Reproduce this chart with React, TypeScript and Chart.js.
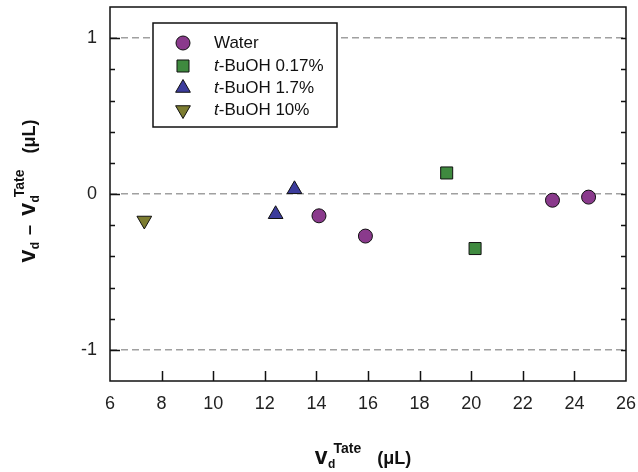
import React, { useEffect, useRef } from 'react';
import { Chart, registerables } from 'chart.js';

Chart.register(...registerables);

// ---- data ----
const seriesLabels = ['Water', 't-BuOH 0.17%', 't-BuOH 1.7%', 't-BuOH 10%'];
const waterX = [14.1, 15.9, 23.15, 24.55];
const waterY = [-0.14, -0.27, -0.04, -0.02];
const buoh017X = [19.05, 20.15];
const buoh017Y = [0.135, -0.35];
const buoh17X = [12.42, 13.15];
const buoh17Y = [-0.13, 0.03];
const buoh10X = [7.33];
const buoh10Y = [-0.17];

const xMin = 6;
const xMax = 26;
const xStep = 2;
const yMin = -1.2;
const yMax = 1.2;
const yStep = 0.2;
const yLabelValues = [-1, 0, 1];

// ---- style ----
const FONT = '"Liberation Sans", Arial, Helvetica, sans-serif';
const colors = ['#8a3a8c', '#3f8a3f', '#3c3c9c', '#7c7c30'];
const pointStyles = ['circle', 'rect', 'triangle', 'triangle'];
const rotations = [0, 0, 0, 180];
const radii = [7, 8.5, 8.5, 8.5];

const toPts = (xs: number[], ys: number[]) => xs.map((x, i) => ({ x, y: ys[i] }));
const seriesData = [
  toPts(waterX, waterY),
  toPts(buoh017X, buoh017Y),
  toPts(buoh17X, buoh17Y),
  toPts(buoh10X, buoh10Y),
];

const isLabelValue = (v: number) => yLabelValues.some((l) => Math.abs(l - v) < 1e-6);

type Seg = { t: string; size: number; dy?: number; gap?: number };

function drawRich(ctx: CanvasRenderingContext2D, segs: Seg[], cx: number, baseY: number) {
  const widths: number[] = [];
  let total = 0;
  segs.forEach((s) => {
    ctx.font = `bold ${s.size}px ${FONT}`;
    const w = ctx.measureText(s.t).width;
    widths.push(w);
    total += (s.gap || 0) + w;
  });
  let x = cx - total / 2;
  ctx.textAlign = 'left';
  ctx.textBaseline = 'alphabetic';
  segs.forEach((s, i) => {
    x += s.gap || 0;
    ctx.font = `bold ${s.size}px ${FONT}`;
    ctx.fillText(s.t, x, baseY + (s.dy || 0));
    x += widths[i];
  });
}

function drawMarker(ctx: CanvasRenderingContext2D, style: string, rot: number, r: number, x: number, y: number, fill: string) {
  ctx.save();
  ctx.fillStyle = fill;
  ctx.strokeStyle = '#111';
  ctx.lineWidth = 1;
  ctx.beginPath();
  if (style === 'circle') {
    ctx.arc(x, y, r, 0, Math.PI * 2);
  } else if (style === 'rect') {
    const s = Math.SQRT1_2 * r;
    ctx.rect(x - s, y - s, 2 * s, 2 * s);
  } else {
    let rad = (rot * Math.PI) / 180;
    for (let k = 0; k < 3; k++) {
      const px = x + Math.sin(rad) * r;
      const py = y - Math.cos(rad) * r;
      if (k === 0) ctx.moveTo(px, py);
      else ctx.lineTo(px, py);
      rad += (2 * Math.PI) / 3;
    }
    ctx.closePath();
  }
  ctx.fill();
  ctx.stroke();
  ctx.restore();
}

const decorPlugin = {
  id: 'decor',
  afterDatasetsDraw(chart: any) {
    const ctx: CanvasRenderingContext2D = chart.ctx;
    const { left, right, top, bottom } = chart.chartArea;
    const xs = chart.scales.x;
    const ys = chart.scales.y;
    ctx.save();
    // frame
    ctx.strokeStyle = '#111';
    ctx.lineWidth = 1.5;
    ctx.strokeRect(left, top, right - left, bottom - top);
    // inward ticks
    ctx.lineWidth = 1.5;
    ctx.beginPath();
    xs.ticks.forEach((t: any) => {
      if (t.value <= xMin || t.value >= xMax) return;
      const px = Math.round(xs.getPixelForValue(t.value)) + 0.5;
      ctx.moveTo(px, bottom);
      ctx.lineTo(px, bottom - 10);
    });
    ys.ticks.forEach((t: any) => {
      if (t.value <= yMin + 1e-6 || t.value >= yMax - 1e-6) return;
      const py = Math.round(ys.getPixelForValue(t.value)) + 0.5;
      const len = isLabelValue(t.value) ? 10 : 5;
      ctx.moveTo(left, py);
      ctx.lineTo(left + len, py);
      ctx.moveTo(right, py);
      ctx.lineTo(right - 5, py);
    });
    ctx.stroke();

    // legend
    const lx = 153, ly = 23, lw = 184, lh = 104;
    ctx.fillStyle = '#fff';
    ctx.fillRect(lx, ly, lw, lh);
    ctx.lineWidth = 1.5;
    ctx.strokeStyle = '#111';
    ctx.strokeRect(lx, ly, lw, lh);
    const rowY = [43, 66, 88, 110];
    seriesLabels.forEach((label, i) => {
      const yy = rowY[i];
      drawMarker(ctx, pointStyles[i], rotations[i], radii[i], 183, yy, colors[i]);
      ctx.fillStyle = '#111';
      ctx.textBaseline = 'middle';
      ctx.textAlign = 'left';
      let tx = 214;
      if (label.startsWith('t-')) {
        ctx.font = `italic 17px ${FONT}`;
        ctx.fillText('t', tx, yy);
        tx += ctx.measureText('t').width;
        label = label.slice(1);
      }
      ctx.font = `17px ${FONT}`;
      ctx.fillText(label, tx, yy);
    });

    // axis titles
    ctx.fillStyle = '#111';
    drawRich(
      ctx,
      [
        { t: 'v', size: 23 },
        { t: 'd', size: 12, dy: 4, gap: 0.5 },
        { t: 'Tate', size: 14, dy: -11, gap: -2 },
        { t: '(\u03bcL)', size: 18, gap: 16 },
      ],
      363,
      464
    );
    ctx.save();
    ctx.translate(35, 191);
    ctx.rotate(-Math.PI / 2);
    drawRich(
      ctx,
      [
        { t: 'v', size: 23 },
        { t: 'd', size: 12, dy: 4, gap: 0.5 },
        { t: '\u2013', size: 18, gap: 7 },
        { t: 'v', size: 23, gap: 9 },
        { t: 'd', size: 12, dy: 4, gap: 0.5 },
        { t: 'Tate', size: 14, dy: -11, gap: -2 },
        { t: '(\u03bcL)', size: 18, gap: 16 },
      ],
      0,
      0
    );
    ctx.restore();
    ctx.restore();
  },
};

export default function App() {
  const ref = useRef<HTMLCanvasElement>(null);
  useEffect(() => {
    const canvas = ref.current;
    if (!canvas) return;
    const chart = new Chart(canvas, {
      type: 'scatter',
      data: {
        datasets: seriesData.map((d, i) => ({
          label: seriesLabels[i],
          data: d,
          pointStyle: pointStyles[i] as any,
          rotation: rotations[i],
          pointRadius: radii[i],
          pointHoverRadius: radii[i],
          backgroundColor: colors[i],
          borderColor: '#111',
          borderWidth: 1,
        })),
      },
      options: {
        animation: false,
        responsive: false,
        devicePixelRatio: 1,
        layout: { autoPadding: false, padding: { left: 0, right: 12, top: 7, bottom: 0 } },
        plugins: { legend: { display: false }, tooltip: { enabled: false } },
        scales: {
          x: {
            type: 'linear',
            min: xMin,
            max: xMax,
            afterFit: (s: any) => {
              s.height = 91;
              s.paddingLeft = 0;
              s.paddingRight = 0;
            },
            ticks: {
              stepSize: xStep,
              color: '#222',
              font: { family: FONT, size: 18 },
              padding: 12,
              maxRotation: 0,
            },
            grid: { display: false, drawTicks: false },
            border: { display: false },
          },
          y: {
            type: 'linear',
            min: yMin,
            max: yMax,
            afterFit: (s: any) => {
              s.width = 110;
              s.paddingTop = 0;
              s.paddingBottom = 0;
            },
            ticks: {
              stepSize: yStep,
              color: '#222',
              font: { family: FONT, size: 18 },
              padding: 13,
              autoSkip: false,
              callback: (v: any) => (isLabelValue(Number(v)) ? String(Math.round(Number(v))) : ''),
            },
            grid: {
              drawTicks: false,
              lineWidth: 1.5,
              color: (c: any) => (isLabelValue(c.tick.value) ? '#a0a0a0' : 'rgba(0,0,0,0)'),
            },
            border: { display: false, dash: [7, 4] },
          },
        },
      },
      plugins: [decorPlugin],
    });
    return () => chart.destroy();
  }, []);
  return (
    <div style={{ position: 'absolute', left: 0, top: 0, width: 638, height: 472, background: '#fff' }}>
      <canvas ref={ref} width={638} height={472} style={{ display: 'block', width: 638, height: 472 }} />
    </div>
  );
}
